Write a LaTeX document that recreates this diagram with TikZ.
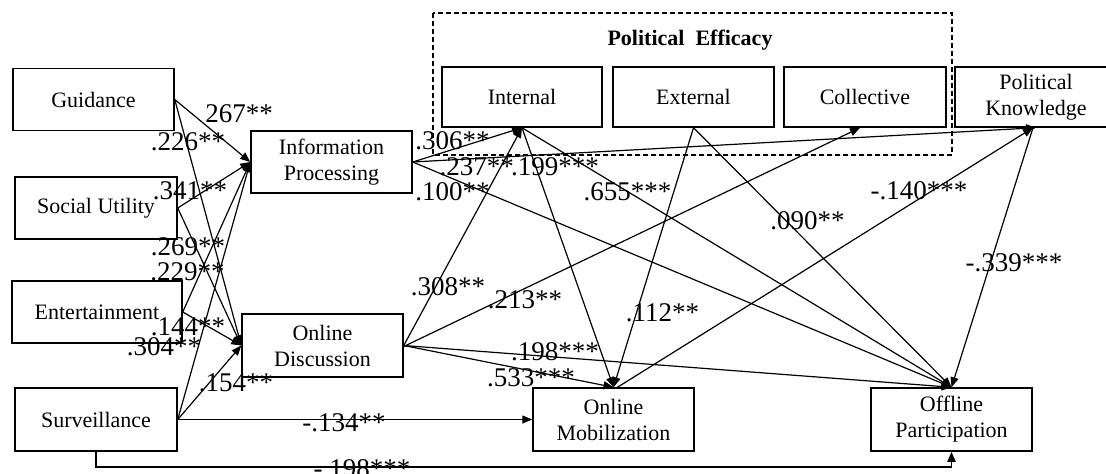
\documentclass[tikz,border=0pt]{standalone}
\usepackage{fontspec}
\setmainfont{Liberation Serif}
\usetikzlibrary{arrows.meta}
\begin{document}
\begin{tikzpicture}[x=1pt,y=-1pt,
  box/.style={draw, line width=1.5pt, minimum height=62pt, inner sep=0pt, align=center, font=\fontsize{22}{26}\selectfont},
  conn/.style={line width=1.2pt, -{Triangle[length=10pt,width=8pt]}},
  lab/.style={inner sep=0pt, font=\fontsize{27}{30}\selectfont}]
\useasboundingbox (0,0) rectangle (1106,474);
% dashed group
\draw[line width=1.2pt, dash pattern=on 5pt off 3pt] (433,13) rectangle (952,155);
\node[font=\bfseries\fontsize{22}{26}\selectfont, inner sep=0pt] (pe) at (690,40) {Political\ \ Efficacy};
% boxes
\node[box, minimum width=161pt] (gui) at (93.5,99.5) {Guidance};
\node[box, minimum width=162pt] (soc) at (96,208) {Social Utility};
\node[box, minimum width=170pt] (ent) at (97,312) {Entertainment};
\node[box, minimum width=162pt, minimum height=63pt] (sur) at (96,419.5) {Surveillance};
\node[box, minimum width=161pt] (ip) at (331.5,162) {Information\\Processing};
\node[box, minimum width=161pt, minimum height=63pt] (od) at (322.5,345.5) {Online\\Discussion};
\node[box, minimum width=160pt, minimum height=60pt] (int) at (522,97) {Internal};
\node[box, minimum width=161pt, minimum height=60pt] (ext) at (693.5,97) {External};
\node[box, minimum width=162pt, minimum height=60pt] (col) at (865,97) {Collective};
\node[box, minimum width=162pt, minimum height=60pt] (pk) at (1036,97) {Political\\Knowledge};
\node[box, minimum width=161pt, minimum height=63pt] (om) at (613.5,419.5) {Online\\Mobilization};
\node[box, minimum width=161pt, minimum height=63pt] (op) at (951.5,419.5) {Offline\\Participation};
% connectors from gratifications
\draw[conn] (gui.east) -- (ip.west);
\draw[conn] (gui.east) -- (od.west);
\draw[conn] (soc.east) -- (ip.west);
\draw[conn] (soc.east) -- (od.west);
\draw[conn] (ent.east) -- (ip.west);
\draw[conn] (ent.east) -- (od.west);
\draw[conn] (sur.east) -- (ip.west);
\draw[conn] (sur.east) -- (od.west);
\draw[conn] (sur.east) -- (om.west);
\draw[line width=1.8pt, -{Triangle[length=10pt,width=8pt]}] (sur.south) |- (96,467) -| (op.south);
% from information processing
\draw[conn] (ip.east) -- (int.south);
\draw[conn] (ip.east) -- (pk.south);
\draw[conn] (ip.east) -- (op.north);
% from online discussion
\draw[conn] (od.east) -- (int.south);
\draw[conn] ([yshift=-1pt]od.east) -- ([xshift=-5pt]col.south);
\draw[conn] (od.east) -- (om.north);
\draw[conn] (od.east) -- (op.north);
% from efficacy
\draw[conn] (int.south) -- (om.north);
\draw[conn] (int.south) -- (op.north);
\draw[conn] (ext.south) -- (om.north);
\draw[conn] (ext.south) -- (op.north);
% knowledge
\draw[conn] ([xshift=4pt]om.north) -- ([xshift=-3pt]pk.south);
\draw[conn] ([xshift=-3pt]pk.south) -- (op.north);
% labels
\node[lab] (l1) at (239,114) {267**};
\node[lab] (l2) at (188,141.5) {.226**};
\node[lab] (l3) at (190,191) {.341**};
\node[lab] (l4) at (188,247) {.269**};
\node[lab] (l5) at (187.5,272) {.229**};
\node[lab] (l6) at (188,327) {.144**};
\node[lab] (l7) at (164,347) {.304**};
\node[lab] (l8) at (236,383) {.154**};
\node[lab] (l9) at (344,423) {-.134**};
\node[lab, anchor=base] (l10) at (362,477) {-.198***};
\node[lab] (l11) at (452.5,141) {.306**};
\node[lab] (l12) at (476.7,167) {.237**};
\node[lab] (l13) at (555,167) {.199***};
\node[lab] (l14) at (452.5,192) {.100**};
\node[lab] (l15) at (627.5,192) {.655***};
\node[lab] (l16) at (919,191) {-.140***};
\node[lab] (l17) at (807.5,221) {.090**};
\node[lab] (l18) at (448,287) {.308**};
\node[lab] (l19) at (525,300) {.213**};
\node[lab] (l20) at (662.5,313) {.112**};
\node[lab] (l21) at (555,352) {.198***};
\node[lab] (l22) at (531,378) {.533***};
\node[lab] (l23) at (1014,263) {-.339***};
\end{tikzpicture}
\end{document}
